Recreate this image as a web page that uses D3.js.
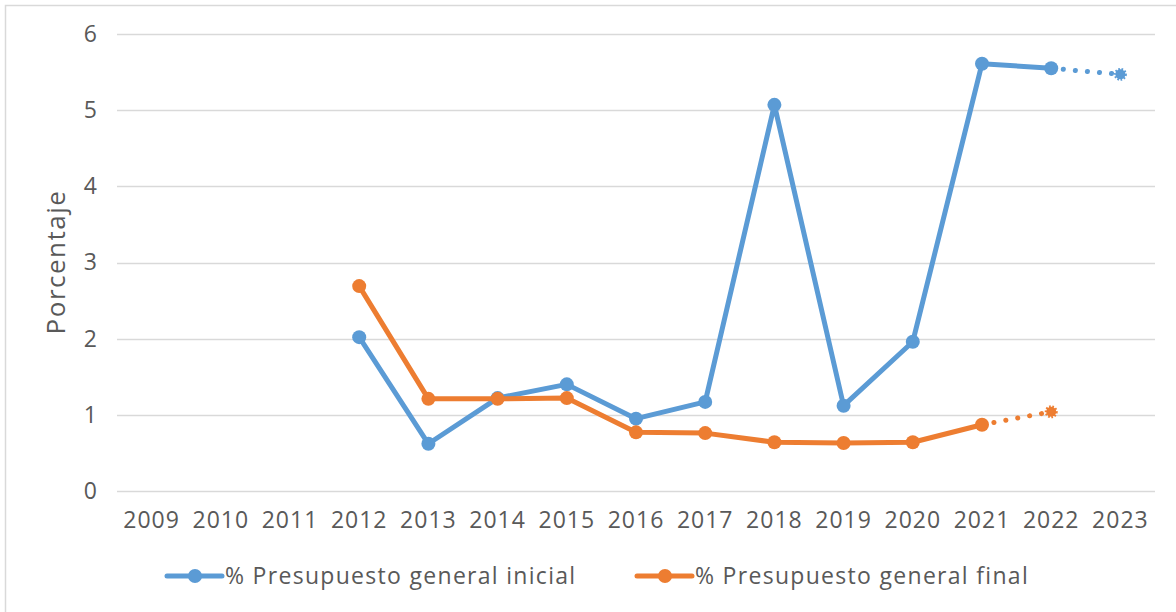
<!DOCTYPE html>
<html><head><meta charset="utf-8">
<script src="https://cdn.jsdelivr.net/npm/d3@7"></script>
<style>body{margin:0;background:#fff}svg{display:block}text{font-family:"Open Sans",sans-serif;fill:#595959}</style>
</head><body>
<svg id="c" width="1176" height="612"></svg>
<script>
const years = ["2009","2010","2011","2012","2013","2014","2015","2016","2017","2018","2019","2020","2021","2022","2023"];
const yTicks = [0,1,2,3,4,5,6];
const inicialSolid = [null,null,null,2.02,0.62,1.22,1.40,0.95,1.17,5.07,1.12,1.96,5.61,5.55,null];
const inicialProj = [null,null,null,null,null,null,null,null,null,null,null,null,null,5.55,5.47];
const finalSolid = [null,null,null,2.69,1.21,1.21,1.22,0.77,0.76,0.64,0.63,0.64,0.87,null,null];
const finalProj = [null,null,null,null,null,null,null,null,null,null,null,null,0.87,1.04,null];
const seriesNames = ["% Presupuesto general inicial","% Presupuesto general final"];
const colors = ["#5B9BD5","#ED7D31"];

const svg = d3.select("#c");
svg.append("rect").attr("x",5.5).attr("y",5.5).attr("width",1200).attr("height",700)
  .attr("fill","none").attr("stroke","#d9d9d9").attr("stroke-width",1.5);

const x = d3.scaleBand().domain(years).range([117,1155]);
const y = d3.scaleLinear().domain([0,6]).range([491,34]);

const grid = svg.append("g");
grid.selectAll("line").data(yTicks).join("line")
  .attr("x1",117).attr("x2",1155).attr("y1",d=>Math.round(y(d))+0.5).attr("y2",d=>Math.round(y(d))+0.5)
  .attr("stroke","#d9d9d9").attr("stroke-width",1.5);

const yAxis = svg.append("g").attr("transform","translate(117,0)")
  .call(d3.axisLeft(y).tickValues(yTicks).tickSize(0).tickPadding(20).tickFormat(d3.format("d")));
yAxis.select(".domain").remove();
yAxis.selectAll("text").style("font-size","23px").attr("fill","#595959").attr("font-family","Open Sans");

const xAxis = svg.append("g").attr("transform","translate(0,491)")
  .call(d3.axisBottom(x).tickSize(0).tickPadding(21));
xAxis.select(".domain").remove();
xAxis.selectAll("text").style("font-size","23px").style("letter-spacing","1px").attr("fill","#595959").attr("font-family","Open Sans");

svg.append("text").attr("transform","translate(65,262) rotate(-90)").attr("text-anchor","middle")
  .style("font-size","26px").style("letter-spacing","1.5px").text("Porcentaje");

const cx = d => x(d) + x.bandwidth()/2;
function drawSeries(solid, proj, color) {
  const pts = years.map((yr,i)=>({yr, v:solid[i]}));
  const ppts = years.map((yr,i)=>({yr, v:proj[i]}));
  const line = d3.line().defined(d=>d.v!=null).x(d=>cx(d.yr)).y(d=>y(d.v));
  svg.append("path").datum(ppts).attr("d",line).attr("fill","none").attr("stroke",color)
    .attr("stroke-width",5).attr("stroke-linecap","round").attr("stroke-dasharray","0.1 12");
  svg.append("path").datum(pts).attr("d",line).attr("fill","none").attr("stroke",color)
    .attr("stroke-width",5).attr("stroke-linejoin","round");
  svg.append("g").selectAll("circle").data(pts.filter(d=>d.v!=null)).join("circle")
    .attr("cx",d=>cx(d.yr)).attr("cy",d=>y(d.v)).attr("r",7).attr("fill",color);
  const last = ppts.filter(d=>d.v!=null).slice(-1)[0];
  svg.append("circle").attr("cx",cx(last.yr)).attr("cy",y(last.v)).attr("r",5).attr("fill",color)
    .attr("stroke",color).attr("stroke-width",3).attr("stroke-dasharray","1.5 1.5");
}
drawSeries(inicialSolid, inicialProj, colors[0]);
drawSeries(finalSolid, finalProj, colors[1]);

const legendX = [167, 637];
seriesNames.forEach((n,i)=>{
  const g = svg.append("g").attr("transform",`translate(${legendX[i]},576)`);
  g.append("line").attr("x1",0).attr("x2",55).attr("y1",0).attr("y2",0).attr("stroke",colors[i])
    .attr("stroke-width",5).attr("stroke-linecap","round");
  g.append("circle").attr("cx",28).attr("cy",0).attr("r",7).attr("fill",colors[i]);
  g.append("text").attr("x",58).attr("y",0).attr("dy","0.35em").style("font-size","23px")
    .style("letter-spacing","1.3px").text(n);
});
</script>
</body></html>
